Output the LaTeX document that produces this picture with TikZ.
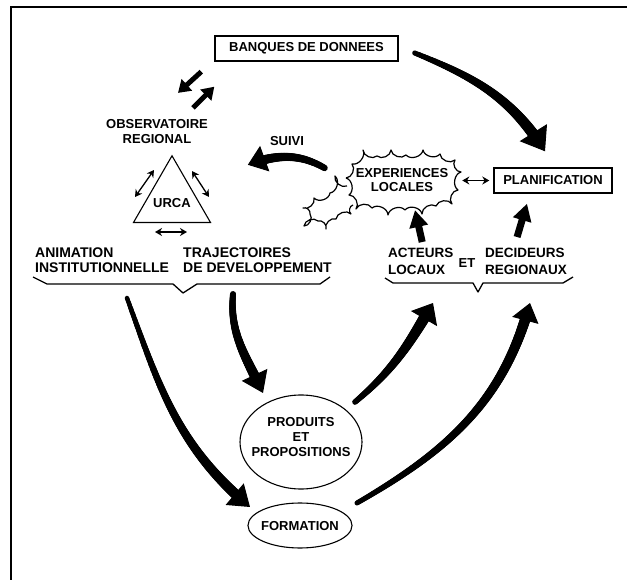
\documentclass[tikz,border=0pt]{standalone}
\usepackage{fontspec}
\setmainfont{Liberation Sans}
\usetikzlibrary{arrows.meta,shapes.geometric,calc,decorations.markings}
\tikzset{
  lab/.style={font=\bfseries\fontsize{13}{15}\selectfont, inner sep=0pt, align=center},
  labA/.style={font=\bfseries\fontsize{13.5}{17}\selectfont, inner sep=0pt, align=left, anchor=west},
  labT/.style={font=\bfseries\fontsize{14}{15}\selectfont, inner sep=0pt, align=left, anchor=west},
  boxn/.style={lab, draw, line width=1.4pt, minimum height=25pt},
  ovalnode/.style={draw, ellipse, inner sep=0pt, line width=1.1pt},
  bracel/.style={line width=1.3pt, line join=round},
  cloudl/.style={line width=1.2pt, fill=white, line join=round},
  dbl/.style={line width=1.3pt, {Stealth[length=7pt,width=8pt]}-{Stealth[length=7pt,width=8pt]}},
  taper/.style n args={2}{postaction={decorate,decoration={markings,
     mark=between positions 0 and -14pt step 0.8pt with {
       \pgfmathsetmacro\tr{#1+(#2-#1)*\pgfkeysvalueof{/pgf/decoration/mark info/distance from start}/\pgfdecoratedpathlength}
       \fill (0,0) circle (\tr pt);}}}},
  fathead/.style n args={2}{line width=1pt, -{Triangle[length=#1,width=#2]}},
}
\begin{document}
\begin{tikzpicture}[x=1pt,y=1pt]
\useasboundingbox (0,0) rectangle (627,-580);
\draw[line width=1.6pt] (11,-580) -- (11,-7) -- (627,-7);

% nodes
\node[boxn, minimum width=183pt] (banq) at (306.5,-48.5) {BANQUES DE DONNEES};
\node[boxn, minimum width=118pt] (plan) at (553,-180.5) {PLANIFICATION};
\node[lab] (obs) at (157,-131.5) {OBSERVATOIRE\\REGIONAL};
\node[lab] (suivi) at (287,-141) {SUIVI};
\node[draw, regular polygon, regular polygon sides=3, minimum size=89pt, inner sep=0pt, line width=1.1pt] (tri) at (172,-200.3) {};
\node[lab] (urca) at (172,-203) {URCA};
\node[labT] (anim) at (35,-260.5) {ANIMATION\\INSTITUTIONNELLE};
\node[labT] (traj) at (183,-260.5) {TRAJECTOIRES\\DE DEVELOPPEMENT};
\node[labA] (act) at (388,-261.5) {ACTEURS\\LOCAUX};
\node[lab] (et) at (467,-263) {ET};
\node[labA] (dec) at (485,-261.5) {DECIDEURS\\REGIONAUX};
\node[ovalnode, minimum width=122pt, minimum height=94pt] (prod) at (301,-442) {};
\node[lab] (prodt) at (301,-437) {PRODUITS\\ET\\PROPOSITIONS};
\node[ovalnode, minimum width=104pt, minimum height=45pt] (form) at (300,-525.5) {};
\node[lab] (formt) at (300,-526) {FORMATION};
\coordinate (b1) at (183,-293);
\coordinate (b2) at (478,-292);

% cloud fragment
\draw[cloudl] (347,-186) to[bend left=65] (335,-176) to[bend left=65] (330,-193)
  to[bend left=65] (314,-198) to[bend left=65] (303,-208) to[bend left=65] (310,-214)
  to[bend left=65] (304,-226) to[bend left=65] (318,-221) to[bend left=65] (326,-229)
  to[bend left=65] (336,-219) to[bend left=65] (351,-214) to[bend left=65] (353,-205);
% main cloud
\draw[cloudl] (346,-178) to[bend right=65] (352,-164) to[bend right=65] (363,-150)
  to[bend right=65] (377,-156) to[bend right=65] (391,-150) to[bend right=65] (406,-155)
  to[bend right=65] (423,-150) to[bend right=65] (440,-154) to[bend right=65] (455,-160)
  to[bend right=65] (461,-172) to[bend right=65] (458,-190) to[bend right=65] (452,-204)
  to[bend right=65] (436,-206) to[bend right=65] (422,-214) to[bend right=65] (405,-210)
  to[bend right=65] (388,-215) to[bend right=65] (372,-208) to[bend right=65] (356,-209)
  to[bend right=65] (349,-195) to[bend right=65] (346,-178);
\node[lab, font=\bfseries\fontsize{13}{14}\selectfont] (exp) at (402,-180) {EXPERIENCES\\LOCALES};

% braces
\draw[bracel] ($(b1)+(-150,16)$) -- ($(b1)+(-136,9)$) -- ($(b1)+(-10,9)$) -- (b1)
  -- ($(b1)+(14,9)$) -- ($(b1)+(137,9)$) -- ($(b1)+(147,16)$);
\draw[bracel] ($(b2)+(-93,14)$) -- ($(b2)+(-85,9)$) -- ($(b2)+(-5,9)$) -- (b2)
  -- ($(b2)+(5,9)$) -- ($(b2)+(85,9)$) -- ($(b2)+(95,15)$);

% thin double arrows
\draw[dbl] ($(tri.center)+(-37,3.3)$) -- ($(tri.center)+(-18,30.3)$);
\draw[dbl] ($(tri.center)+(20,29.3)$) -- ($(tri.center)+(37,3.3)$);
\draw[dbl] ($(tri.center)+(-17,-31.7)$) -- ($(tri.center)+(15,-31.7)$);
\draw[dbl, line width=1.7pt] ($(plan.west)+(-31,0)$) -- ($(plan.west)+(-4,0)$);

% big tapered arrows
\draw[fathead={22pt}{32pt}, taper={2.5}{6}] ($(banq.east)+(16,-4.5)$) to[out=-22,in=122] ($(plan.north)+(-8,16)$);
\draw[fathead={18pt}{27pt}, taper={3.2}{5}] ($(exp.west)+(-31,12)$) to[out=150,in=20] ($(suivi.south west)+(-22,-19)$);
\draw[fathead={20pt}{28pt}, taper={2.2}{5.5}] ($(b1)+(-56,-5)$) to[out=-70,in=140] ($(form.center)+(-50,18.5)$);
\draw[fathead={20pt}{28pt}, taper={3}{5.5}] ($(b1)+(50,-1)$) to[out=-95,in=115] ($(prod.center)+(-38,49)$);
\draw[fathead={18pt}{30pt}, taper={2.8}{6}] ($(prod.center)+(54,40)$) to[out=40,in=-120] ($(b2)+(-45,-11)$);
\draw[fathead={18pt}{27pt}, taper={2.5}{5.5}] ($(form.center)+(57,22.5)$) to[out=30,in=-105] ($(b2)+(52,-11)$);

% short fat arrows
\draw[line width=7pt, -{Triangle[length=17pt,width=18pt]}] ($(act.north)+(1.4,6)$) -- ($(exp.south)+(13,-18.3)$);
\draw[line width=7pt, -{Triangle[length=17pt,width=18pt]}] ($(dec.north)+(-9,11)$) -- ($(plan.south)+(-26,-10)$);
\draw[line width=5pt, -{Triangle[length=12pt,width=15pt]}] ($(banq.south west)+(-13,-10)$) -- ($(obs.north)+(21,26.3)$);
\draw[line width=5pt, -{Triangle[length=12pt,width=15pt]}] ($(obs.north)+(36,11.3)$) -- ($(banq.south west)+(0,-25)$);
\end{tikzpicture}
\end{document}
